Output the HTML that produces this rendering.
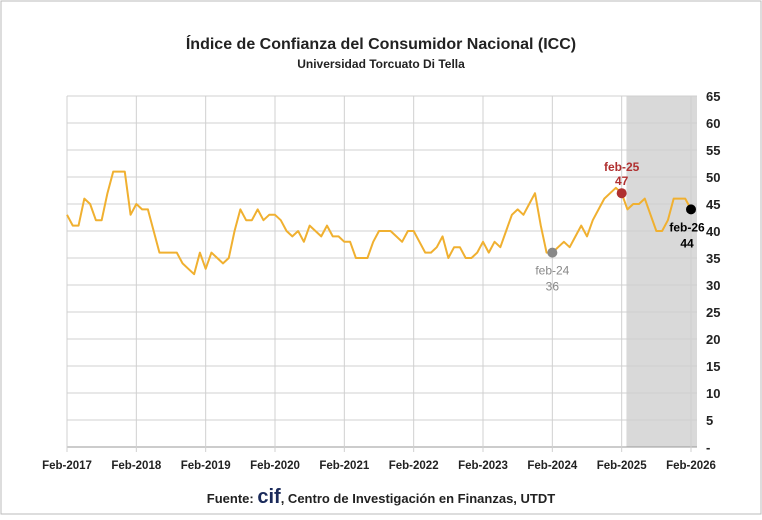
<!DOCTYPE html>
<html><head><meta charset="utf-8"><style>
body{margin:0;background:#fff;}
svg{display:block;font-family:"Liberation Sans",sans-serif;}
</style></head><body>
<svg id="chart" width="762" height="520" viewBox="0 0 762 520">
<rect x="1" y="1" width="760" height="513" fill="#fff" stroke="#bbb"/>
<text x="381" y="49" text-anchor="middle" font-size="16" font-weight="bold" fill="#222">Índice de Confianza del Consumidor Nacional (ICC)</text>
<text x="381" y="68" text-anchor="middle" font-size="12" font-weight="bold" fill="#222">Universidad Torcuato Di Tella</text>
<g id="grid"></g><g id="marks"></g><g id="axes"></g>
<text x="381" y="503" text-anchor="middle" font-size="13" font-weight="bold" fill="#222">Fuente: <tspan font-size="20" fill="#1a2a5a">cif</tspan>, Centro de Investigación en Finanzas, UTDT</text>
</svg>
<script>
const yTicks=[0,5,10,15,20,25,30,35,40,45,50,55,60,65];
const xLabels=["Feb-2017","Feb-2018","Feb-2019","Feb-2020","Feb-2021","Feb-2022","Feb-2023","Feb-2024","Feb-2025","Feb-2026"];
const iccValues=[43,41,41,46,45,42,42,47,51,51,51,43,
45,44,44,40,36,36,36,36,34,33,32,36,
33,36,35,34,35,40,44,42,42,44,42,43,
43,42,40,39,40,38,41,40,39,41,39,39,
38,38,35,35,35,38,40,40,40,39,38,40,
40,38,36,36,37,39,35,37,37,35,35,36,
38,36,38,37,40,43,44,43,45,47,41,36,
36,37,38,37,39,41,39,42,44,46,47,48,
47,44,45,45,46,43,40,40,42,46,46,46,44];
const annotations=[{i:84,label:"feb-24",val:"36",color:"#888",dx:0,dy:1},{i:96,label:"feb-25",val:"47",color:"#b03030",dx:0,dy:-1},{i:108,label:"feb-26",val:"44",color:"#000",dx:-4,dy:1}];
const L=67,R=697,T=96,B=447;
const X=i=>L+i*(691-67)/108;
const Y=v=>B-v*(B-T)/65;
const ns="http://www.w3.org/2000/svg";
function mk(p,t,a){const e=document.createElementNS(ns,t);for(const k in a)e.setAttribute(k,a[k]);p.appendChild(e);return e;}
const grid=document.getElementById('grid'),marks=document.getElementById('marks'),axes=document.getElementById('axes');
const sh=mk(grid,'rect',{x:X(97)-1,y:T,width:R-X(97)+1,height:B-T,fill:'#d9d9d9'});


yTicks.forEach(v=>{
 const l=mk(grid,'line',{x1:L,x2:R,y1:Y(v),y2:Y(v),stroke:v===0?'#999':'#d0d0d0','stroke-width':1});
 
 
 const t=mk(axes,'text',{x:706,y:Y(v)+5,'font-size':13,'font-weight':'bold',fill:'#222'});
 t.textContent=v===0?'-':v;
 
 
});
xLabels.forEach((s,k)=>{
 const x=X(k*12);
 const l=mk(grid,'line',{x1:x,x2:x,y1:T,y2:B+5,stroke:'#d0d0d0','stroke-width':1});
 
 
 const t=mk(axes,'text',{x:x,y:469,'text-anchor':'middle','font-size':11.5,'font-weight':'bold',fill:'#222'});
 t.textContent=s;
 
 
});
const pl=mk(marks,'polyline',{points:iccValues.map((v,i)=>X(i)+','+Y(v)).join(' '),fill:'none',stroke:'#f0b030','stroke-width':2,'stroke-linejoin':'round'});


annotations.forEach(a=>{
 const cx=X(a.i),cy=Y(iccValues[a.i]);
 const c=mk(marks,'circle',{cx:cx,cy:cy,r:5,fill:a.color});
 
 
 const y1=a.dy<0?cy-22:cy+22, y2=a.dy<0?cy-8:cy+38;
 const t1=mk(marks,'text',{x:cx+a.dx,y:y1,'text-anchor':'middle','font-size':12,'font-weight':a.color==='#888'?'normal':'bold',fill:a.color});
 t1.textContent=a.label;
 
 
 const t2=mk(marks,'text',{x:cx+a.dx,y:y2,'text-anchor':'middle','font-size':12,'font-weight':a.color==='#888'?'normal':'bold',fill:a.color});
 t2.textContent=a.val;
 
 
});
</script>
</body></html>
